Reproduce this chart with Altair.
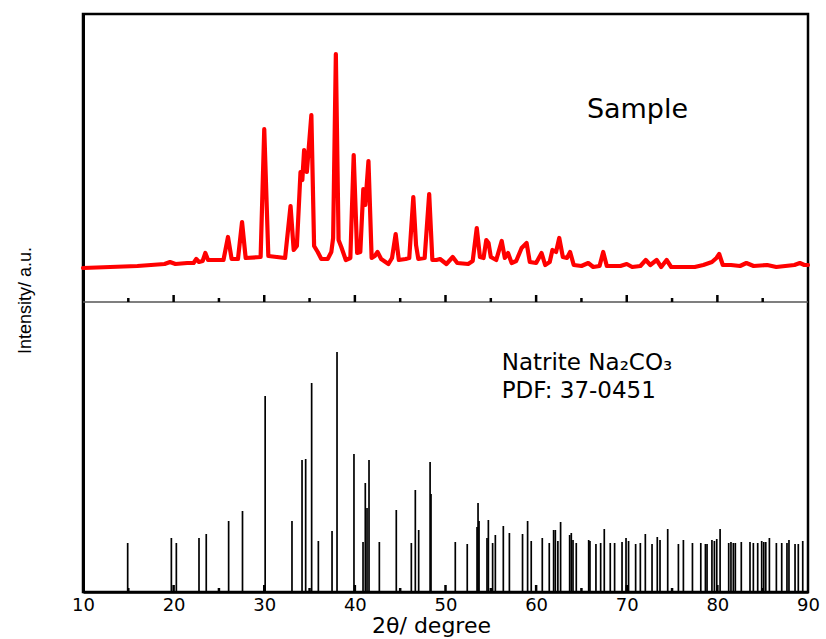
import altair as alt
import pandas as pd

# ---------------- data ----------------
# Measured sample pattern (upper panel): 2θ (degree) and intensity (a.u.)
sample_2theta = [
    10.0, 11.5, 13.0, 14.5, 16.0, 17.5, 19.0, 19.6, 20.2, 21.5, 22.2, 22.5, 22.8, 23.2, 23.5, 23.8,
    25.5, 26.0, 26.4, 27.1, 27.55, 27.95, 29.6, 30.0, 30.45, 32.3, 32.9, 33.25, 33.6, 34.0, 34.2,
    34.4, 34.7, 35.2, 35.5, 35.9, 36.3, 37.0, 37.4, 37.6, 37.9, 38.2, 38.5, 39.0, 39.5, 39.87,
    40.25, 40.6, 40.93, 41.15, 41.5, 41.85, 42.2, 42.5, 42.9, 43.7, 44.1, 44.5, 44.85, 45.6, 46.0,
    46.45, 46.75, 47.0, 47.7, 48.2, 48.55, 49.0, 49.4, 50.1, 50.8, 51.3, 52.5, 53.0, 53.45, 53.8,
    54.2, 54.5, 54.75, 55.0, 55.6, 56.2, 56.55, 56.9, 57.3, 57.8, 58.4, 58.95, 59.3, 60.0, 60.6,
    61.0, 61.5, 61.8, 62.2, 62.55, 62.95, 63.4, 63.75, 64.15, 65.0, 65.75, 66.3, 67.0, 67.4, 67.8,
    68.5, 69.3, 70.0, 70.6, 71.5, 72.1, 72.6, 73.3, 73.8, 74.4, 74.9, 76.0, 77.5, 78.45, 79.4,
    79.9, 80.2, 80.6, 81.5, 82.5, 83.2, 84.0, 85.5, 86.5, 87.5, 88.5, 89.1, 89.6, 90.0,
]
sample_intensity = [
    34, 34.5, 35, 35.5, 36, 37, 38, 40, 38, 39, 39, 43, 40, 41, 49, 42,
    42, 65, 43, 43, 80, 44, 45, 173, 46, 44, 96, 52, 56, 130, 122,
    152, 130, 187, 56, 50, 43, 43, 50, 64, 248, 62, 55, 42, 44, 147,
    49, 50, 113, 97, 141, 44, 46, 50, 43, 38, 44, 68, 42, 43, 44,
    105, 57, 43, 44, 108, 42, 42, 43, 38, 45, 39, 38, 41, 74, 45,
    44, 62, 59, 45, 42, 61, 44, 49, 39, 41, 54, 59, 40, 39, 49,
    37, 40, 52, 50, 64, 45, 44, 50, 37, 36, 39, 35, 36, 50, 36,
    36, 36, 38, 35, 36, 42, 37, 42, 35, 42, 35, 35, 35, 37, 40,
    44, 48, 37, 37, 36, 39, 36, 37, 35, 36, 37, 39, 37, 37,
]

# Reference pattern Natrite Na2CO3, PDF 37-0451 (lower panel sticks)
ref_2theta = [
    14.93, 19.75, 20.3, 22.8, 23.6, 26.07, 27.6, 30.1, 33.06, 34.17, 34.57, 35.23, 35.97, 37.48,
    38.03, 39.9, 40.9, 41.15, 41.34, 41.56, 42.7, 44.57, 46.23, 46.67, 47.04, 48.3, 48.4, 51.08,
    52.4, 53.48, 53.59, 53.7, 54.58, 54.73, 55.2, 55.5, 56.38, 57.05, 58.5, 59.06, 59.46, 60.68,
    61.45, 61.93, 62.12, 62.4, 62.7, 63.7, 63.88, 64.07, 64.43, 65.8, 65.94, 66.6, 67.12, 67.52,
    68.18, 68.66, 69.48, 69.92, 70.2, 70.98, 71.5, 72.05, 72.79, 73.37, 73.67, 74.52, 75.7, 76.25,
    77.25, 78.17, 78.68, 78.86, 79.4, 79.67, 79.93, 80.3, 81.25, 81.5, 81.76, 81.98, 82.64, 83.6,
    83.97, 84.45, 84.89, 85.12, 85.34, 85.74, 86.51, 87.1, 87.68, 87.9, 88.57, 88.93, 89.42,
]
ref_intensity = [
    49, 54, 49, 54, 58, 71, 81, 196, 71, 132, 133, 209, 51, 61,
    240, 138, 50, 109, 84, 132, 50, 82, 49, 102, 62, 130, 98, 50,
    48, 65, 89, 71, 54, 72, 49, 57, 66, 59, 58, 71, 51, 54,
    49, 62, 62, 51, 70, 57, 59, 52, 49, 52, 51, 48, 49, 63,
    49, 49, 50, 54, 51, 48, 49, 58, 48, 55, 52, 63, 48, 52,
    49, 49, 48, 48, 52, 51, 53, 63, 49, 50, 49, 49, 50, 50,
    49, 49, 51, 50, 50, 54, 49, 49, 49, 52, 48, 48, 51,
]

x_label_values = [10, 20, 30, 40, 50, 60, 70, 80, 90]
major_ticks = [20, 30, 40, 50, 60, 70, 80]
minor_ticks = [15, 25, 35, 45, 55, 65, 75, 85]

annot_text = ["Sample", "Natrite Na₂CO₃", "PDF: 37-0451"]
annot_x = [65.6, 56.2, 56.2]
annot_y = [474, 222, 194]
annot_size = [27, 23, 23]

STACK_OFFSET = 290   # upper panel is shifted up by the height of the lower panel
Y_MAX = 578

# ---------------- chart ----------------
W, H = 725, 578
FONT = "DejaVu Sans"

xscale = alt.Scale(domain=[10, 90], nice=False, zero=False)
yscale = alt.Scale(domain=[0, Y_MAX], nice=False, zero=False)

x_axis = alt.Axis(
    values=x_label_values, format="d", ticks=False, grid=False,
    domain=True, domainColor="black", domainWidth=2.5,
    labelFont=FONT, labelFontSize=18, labelColor="black", labelPadding=4, labelFlush=False,
    title="2θ/ degree", titleFont=FONT, titleFontSize=22, titleFontWeight="normal",
    titleColor="black", titleX=348, titleY=40, titleBaseline="alphabetic", titleAlign="center",
)
y_axis = alt.Axis(
    labels=False, ticks=False, grid=False,
    domain=True, domainColor="black", domainWidth=3,
    title="Intensity/ a.u.", titleFont="Liberation Sans",
    titleFontSize=18, titleFontWeight="normal", titleColor="black",
    titleAngle=270, titleX=-58, titleY=286, titleBaseline="middle", titleAlign="center",
)

ref_df = pd.DataFrame({"two_theta": ref_2theta, "intensity": ref_intensity})
sample_df = pd.DataFrame({"two_theta": sample_2theta, "intensity": sample_intensity})

sticks = alt.Chart(ref_df).mark_rule(color="black", strokeWidth=1.7).encode(
    x=alt.X("two_theta:Q", scale=xscale, axis=x_axis),
    y=alt.Y("intensity:Q", scale=yscale, axis=y_axis),
    y2=alt.Y2(datum=0),
)

sample_line = alt.Chart(sample_df).transform_calculate(
    shifted=f"datum.intensity + {STACK_OFFSET}"
).mark_line(color="#ff0000", strokeWidth=4.2, strokeJoin="round", strokeCap="round").encode(
    x=alt.X("two_theta:Q", scale=xscale, axis=x_axis),
    y=alt.Y("shifted:Q", scale=yscale, axis=y_axis),
    order="two_theta:Q",
)

divider = alt.Chart(pd.DataFrame({"level": [STACK_OFFSET]})).mark_rule(
    color="#555555", strokeWidth=1.5
).encode(
    y=alt.Y("level:Q", scale=yscale, axis=y_axis),
    x=alt.value(0), x2=alt.value(W),
)

tick_rows = []
for base in (0, STACK_OFFSET):
    for v in major_ticks:
        tick_rows.append({"two_theta": v, "y0": base, "y1": base + 7})
    for v in minor_ticks:
        tick_rows.append({"two_theta": v, "y0": base, "y1": base + 4})
ticks_df = pd.DataFrame(tick_rows)

inner_ticks = alt.Chart(ticks_df).mark_rule(color="black", strokeWidth=2.5).encode(
    x=alt.X("two_theta:Q", scale=xscale, axis=x_axis),
    y=alt.Y("y0:Q", scale=yscale, axis=y_axis),
    y2="y1:Q",
)

annot_df = pd.DataFrame({"two_theta": annot_x, "ypos": annot_y, "label": annot_text, "size": annot_size})
annotations = alt.Chart(annot_df).mark_text(
    align="left", baseline="alphabetic", font=FONT, color="black"
).encode(
    x=alt.X("two_theta:Q", scale=xscale, axis=x_axis),
    y=alt.Y("ypos:Q", scale=yscale, axis=y_axis),
    text="label:N",
    size=alt.Size("size:Q", scale=None, legend=None),
)

chart = alt.layer(sticks, divider, inner_ticks, sample_line, annotations).properties(
    width=W, height=H,
    autosize=alt.AutoSizeParams(type="none"),
    padding={"left": 83, "top": 14, "right": 18, "bottom": 47},
    background="white",
).configure_view(
    stroke="black", strokeWidth=2.5
)

chart.save("out.html", embed_options={"renderer": "svg", "actions": False})
